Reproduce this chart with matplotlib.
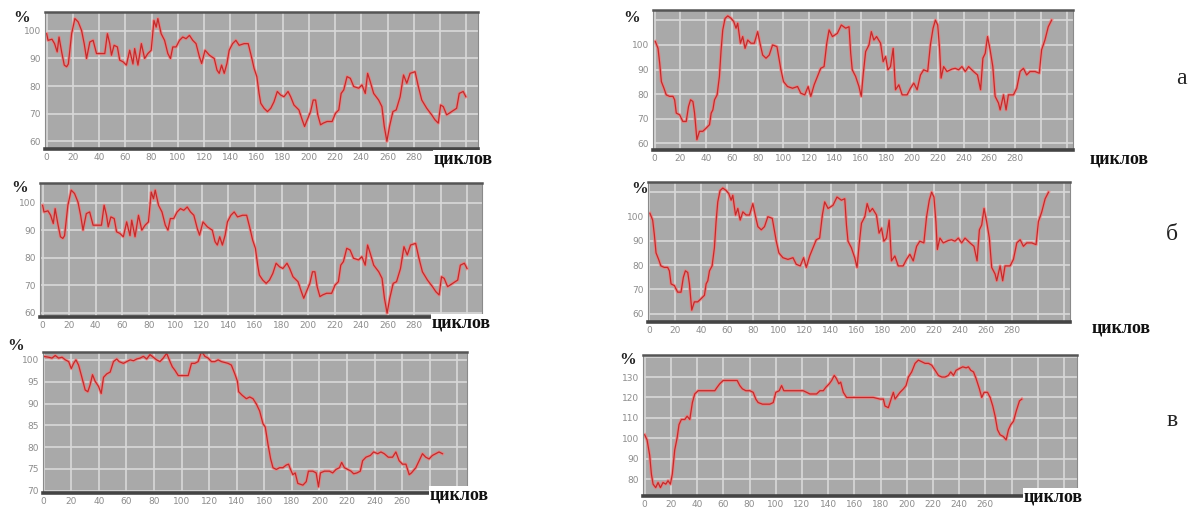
import matplotlib
matplotlib.use("Agg")
import matplotlib.pyplot as plt
import numpy as np

# --- data (cycles, percent) ---
a_cycles = [0, 1, 4, 6, 8, 9.4, 11.4, 13.4, 15.2, 16.5, 19, 21.5, 24, 26.6, 28.6, 30.4, 32.9, 35.4, 38, 41.8,
            44.3, 46.3, 48.1, 49.4, 51.4, 53.9, 55.7, 58.2, 60.8, 63.3, 65.8, 67.1, 69.6, 72.2, 74.7, 77.2,
            79.7, 81.8, 83.5, 84.8, 87.3, 89.9, 92.4, 94.4, 96.2, 98.7, 101.3, 103.8, 106.3, 108.9, 111.4,
            113.9, 116.5, 118.2, 120.8, 124.1, 127.8, 129.9, 131.6, 133.4, 135.4, 137.5, 139.2, 141.8, 144.3,
            146.8, 150.6, 153.7, 156.2, 158.2, 160.3, 162, 163.3, 165.8, 168.4, 170.9, 173.4, 175.9, 178.5,
            181, 184.1, 186.1, 188.6, 192.4, 194.9, 196.7, 198.7, 201.3, 203.3, 205.1, 206.8, 208.9, 210.9,
            213.9, 217.7, 220.3, 222.8, 224.6, 226.6, 229.1, 231.6, 234.2, 238, 240.5, 243, 244.8, 246.8,
            249.4, 253.2, 255.7, 257.5, 259.5, 261.5, 264.1, 266.6, 269.6, 272.2, 274.7, 277.2, 281, 283.5,
            286.1, 289.9, 293.7, 296.2, 298.7, 300.5, 302.5, 305.1, 308.9, 312.7, 314.7, 317.7, 319.7]
a_pct = [99, 96.6, 97, 95.4, 92.4, 97.8, 92.4, 87.6, 87, 88, 99, 104.5, 103.3, 100.2, 95.4, 90, 96, 96.6, 91.8, 91.8,
         91.8, 99, 95.4, 91.2, 94.8, 94.2, 89.4, 88.8, 87.6, 93, 88, 93.6, 87.6, 95.4, 90, 91.8,
         93, 103.8, 101.4, 104.5, 99, 96.6, 91.8, 90, 94.2, 94.2, 96.6, 97.8, 97.2, 98.4, 96.6,
         95.4, 90.6, 88.2, 93, 91.2, 90, 85.8, 84.6, 87.6, 84.6, 88.2, 93, 95.4, 96.6,
         94.8, 95.4, 95.4, 90.6, 86.4, 83.4, 77.3, 73.7, 71.9, 70.7, 71.9, 74.3, 78, 76.7,
         76.1, 78, 76.1, 73.1, 71.3, 67.7, 65.3, 67.7, 70.7, 74.9, 74.9, 69.5, 65.9, 66.5,
         67.1, 67.1, 70.1, 71.3, 77.3, 78.6, 83.4, 82.8, 79.8, 79.2, 80.4, 77.3, 84.6, 81.6,
         77.3, 74.9, 72.5, 65.3, 59.9, 65.3, 70.7, 71.3, 76.1, 84, 81, 84.6, 85.2, 79.8,
         74.9, 71.9, 69.5, 67.7, 66.5, 73.1, 72.5, 69.5, 70.7, 71.9, 77.3, 78, 76.1]

b_cycles = [0.5, 2.6, 3.9, 5.2, 7.2, 9, 11.6, 14.2, 15.5, 16.8, 19.4, 21.9, 24.5, 26.3, 27.9, 29.7, 31, 32.8,
            34.8, 37.4, 40, 42.6, 43.9, 45.2, 46.5, 48.5, 50.3, 51.6, 52.9, 54.7, 56.8, 59.4, 61.4, 63.2,
            64.5, 66.6, 68.4, 70.2, 72.3, 74.8, 77.4, 80, 82.1, 83.9, 86.5, 89, 91.6, 95, 98.1, 100.1,
            103.2, 107.1, 111, 113.5, 116.6, 119.2, 121.3, 123.9, 126.5, 129, 131.6, 133.7, 135.5, 138.1,
            141.9, 145, 148.4, 151, 152.3, 153.5, 156.1, 158.7, 160.5, 162.1, 163.9, 166.5, 168.3, 170.3,
            172.4, 175.5, 177.5, 179.4, 181.2, 183.2, 185.3, 187.1, 189.7, 192.3, 196.1, 198.7, 201.3,
            203.9, 206.5, 209, 212.1, 214.2, 216.3, 218.1, 219.9, 221.4, 222.5, 224.5, 227.1, 231, 233.5,
            236.1, 238.7, 241.3, 243.9, 247.7, 250.8, 253.2, 255, 256.8, 258.6, 260.6, 262.7, 264.5,
            267.1, 268.4, 271, 273, 274.8, 278.7, 281.3, 283.9, 286.5, 289, 291.6, 295.5, 298.8, 300.6,
            303.2, 305.8, 308.4]
b_pct = [101.4, 98.6, 92.6, 85.1, 82.4, 79.7, 79.1, 79.1, 77.7, 72.3, 71.6, 68.9, 68.9, 75, 77.7, 77, 72.3, 61.5,
         64.9, 64.9, 66.2, 67.6, 72.3, 73.6, 77.7, 79.7, 87.2, 98, 106.1, 110.8, 111.8, 110.8, 109.5, 106.8,
         108.8, 100.7, 103.4, 98.6, 102, 100.7, 100.7, 105.4, 100, 95.9, 94.6, 95.9, 100, 99.3, 89.9, 85.1,
         83.1, 82.4, 83.1, 80.4, 79.7, 83.1, 79.1, 83.8, 87.2, 90.5, 91.2, 100.7, 106.1, 103.4,
         104.7, 108.1, 106.8, 107.4, 96.6, 89.9, 87.2, 83.1, 79.1, 88.5, 97.3, 100, 105.4, 102,
         103.4, 100.7, 93.2, 95.3, 89.9, 91.2, 98.6, 81.8, 83.8, 79.7, 79.7, 82.4, 84.5,
         81.8, 87.8, 89.9, 89.2, 100, 106.8, 110.1, 108.1, 98, 86.5, 91.2, 89.2, 90.2, 90.5,
         89.9, 91.2, 89.2, 91.2, 89.2, 87.8, 81.8, 94.6, 96.6, 103.4, 98, 91.2, 79.1,
         76.4, 73.6, 79.7, 73.6, 79.7, 79.7, 82.4, 89.2, 90.5, 87.8, 89.2, 89.2, 88.5, 98,
         102, 107.4, 110.1]

c_cycles = [0, 3.6, 6, 8.4, 10.8, 13.3, 15.7, 18.1, 20, 21.7, 23.4, 25.3, 27.7, 30.1, 32, 33.7, 35.4, 37.3,
            39.8, 41.7, 43.4, 45.8, 48.2, 50.6, 53, 54.7, 57.8, 60.2, 62.7, 65.1, 67.5, 69.9, 72.3, 74.7,
            77.1, 79.5, 81.9, 84.3, 86.7, 89.2, 91.6, 93.3, 95.2, 97.6, 100, 102.4, 104.8, 107.2, 109.6,
            112, 114.5, 116.9, 119.3, 121.7, 124.1, 126.5, 128.9, 131.3, 133.7, 136.1, 138.6, 140.5, 141.4,
            143.9, 147, 149.4, 151.8, 154.2, 156.6, 159, 160.7, 162.7, 164.6, 166.3, 168.7, 171.1, 173.5,
            175.9, 177.6, 179, 180.7, 182.4, 184.3, 188, 190.4, 192, 195.2, 197.6, 199.3, 200.7, 203.6,
            207.2, 209.6, 212, 214.5, 216.1, 218.1, 220.5, 222.9, 224.8, 227.2, 229.6, 231.3, 233.7,
            236.9, 239.3, 242.2, 244.6, 247, 249.9, 253, 255.4, 257.8, 260.2, 262.7, 265.1, 266.7, 269.9,
            272.3, 274.7, 277.1, 279.5, 281.9, 284.3, 286.7, 289.2]
c_pct = [100.8, 100.6, 100.4, 101, 100.4, 100.6, 100, 99.6, 98, 99.2, 100, 98.8, 96, 93.1, 92.7, 94.3, 96.6, 95.1,
         93.9, 92.3, 96, 96.8, 97.2, 99.6, 100.2, 99.6, 99.2, 99.6, 100, 99.8, 100.2, 100.4, 100.8, 100.2,
         101.2, 100.6, 100, 99.6, 100.4, 101.5, 99.6, 98.4, 97.6, 96.4, 96.4, 96.4, 96.4, 99.2, 99.2,
         99.6, 102, 100.8, 100.4, 99.6, 99.6, 100, 99.6, 99.4, 99.2, 98.8, 96.8, 95.1, 92.7,
         91.9, 91.1, 91.5, 91.1, 89.9, 88.3, 85.4, 84.6, 80.6, 77.3, 75.3, 74.9, 75.3, 75.3,
         75.9, 76.1, 74.9, 73.7, 74.1, 71.7, 71.3, 72.1, 74.5, 74.5, 74.1, 70.9, 74.1, 74.5,
         74.5, 74.1, 74.9, 75.3, 76.5, 75.3, 74.9, 74.5, 73.9, 74.1, 74.5, 76.9, 77.7,
         78.1, 78.9, 78.5, 78.9, 78.5, 77.7, 77.7, 78.9, 76.9, 76.1, 76.1, 73.7, 74.1, 75.3,
         76.9, 78.5, 77.7, 77.3, 78.1, 78.5, 78.9, 78.5]

d_cycles = [0, 1.8, 3.8, 5.1, 6.4, 8.4, 10.2, 12, 14, 16.1, 17.8, 19.6, 21.1, 22.9, 24.7, 26.2, 28, 30.6, 32.4,
            34.4, 36.4, 38.2, 40.8, 43.3, 47.1, 51, 53.5, 55.3, 57.3, 59.9, 63.7, 67.5, 70.6, 72.6, 74.6,
            77.2, 80.3, 82.8, 84.8, 86.6, 89.9, 93, 95.5, 98.1, 100.1, 102.7, 104.5, 106.2, 109.6, 113.4,
            117.2, 121, 123.6, 126.1, 128.7, 131.2, 133.8, 136.3, 138.3, 140.9, 142.7, 144.7, 146.4, 148.2,
            149.6, 151.6, 154.1, 159.2, 164.3, 169.4, 174.5, 179.6, 182.2, 183.4, 186, 188.5, 189.8, 191.1,
            192.9, 194.9, 197.5, 199.5, 201.3, 203.8, 206.4, 208.9, 211.5, 214, 216.6, 219.1, 221.7, 224.2,
            226.8, 229.3, 231.8, 233.6, 235.7, 237.7, 240.3, 242.8, 245.4, 247.1, 248.9, 251, 253, 255.5,
            257.3, 259.1, 261.7, 263.7, 265.7, 267.5, 269.3, 271.3, 273.9, 275.9, 277.7, 279.5, 281.5,
            283.6, 286.1, 287.9]
d_pct = [101.7, 99.2, 91.7, 82.5, 77.5, 75.8, 78.3, 75.8, 78.3, 77.5, 79.2, 77.5, 82.5, 94.2, 100, 106.7, 109.2, 109.2, 110.8,
         109.2, 117.5, 121.7, 123.3, 123.3, 123.3, 123.3, 123.3, 125, 126.7, 128.3, 128.3, 128.3, 128.3, 125.8, 124.2,
         123.3, 123.3, 122.5, 119.2, 117.5, 116.7, 116.7, 116.7, 117.5, 122.5, 123.3, 125.8, 123.3, 123.3, 123.3,
         123.3, 123.3, 122.5, 121.7, 121.7, 121.7, 123.3, 123.3, 125, 126.7, 128.3, 130.8, 129.2, 126.7,
         127.5, 122.5, 120, 120, 120, 120, 120, 119.2, 119.2, 115.8, 115, 120, 122.5, 119.2,
         120.8, 122.5, 124.2, 125.8, 130, 132.5, 136.7, 138.3, 137.5, 136.7, 136.7, 135.8, 133.3, 130.8,
         130, 130, 130.8, 132.5, 130.8, 133.3, 134.2, 135, 134.5, 135, 133.3, 132.5, 129.2, 124.2,
         120, 122.5, 122.5, 120, 115.8, 110.8, 104.2, 101.7, 100.8, 99.2, 104.2, 106.7, 108.3,
         113.3, 118.3, 119.2]

W, H = 1200, 513
BG = "#a9a9a9"
GRID = "#d8d8d8"


def px(x, y):
    return x / W, 1 - y / H


def panel(box, cyc, pct, xlim, ylim, yticks, xlast, ylabels):
    x0, y0, x1, y1 = box
    ax = fig.add_axes([x0 / W, 1 - y1 / H, (x1 - x0) / W, (y1 - y0) / H])
    ax.set_facecolor(BG)
    ax.plot(cyc, pct, color="#f27878", lw=2.4, alpha=0.7, solid_joinstyle="round")
    ax.plot(cyc, pct, color="#c42a2a", lw=0.9)
    ax.set_xlim(*xlim)
    ax.set_ylim(*ylim)
    xt = np.arange(0, xlim[1], 20)
    ax.set_xticks(xt)
    ax.set_xticklabels([str(int(t)) if t <= xlast else "" for t in xt])
    ax.set_yticks(yticks)
    ax.set_yticklabels([str(t) if t in ylabels else "" for t in yticks])
    ax.grid(True, color=GRID, lw=1.2)
    ax.set_axisbelow(True)
    ax.tick_params(length=0, labelsize=6.5, labelcolor="#8c8c8c", pad=3)
    for s in ("left", "right"):
        ax.spines[s].set_color("#8a8a8a")
        ax.spines[s].set_linewidth(0.8)
    ax.spines["top"].set_color("#555555")
    ax.spines["top"].set_linewidth(1.8)
    ax.spines["bottom"].set_color("#444444")
    ax.spines["bottom"].set_linewidth(2.6)
    return ax


fig = plt.figure(figsize=(12, 5.13), dpi=100)

panel((45, 12, 478, 149), a_cycles, a_pct, (-1.3, 329), (57.1, 106.9),
      [60, 70, 80, 90, 100], 280, [60, 70, 80, 90, 100])
panel((653, 10, 1073, 150), b_cycles, b_pct, (-1.3, 325), (57.3, 114.2),
      [60, 70, 80, 90, 100, 110], 280, [60, 70, 80, 90, 100])
panel((40, 183, 482, 317), a_cycles, a_pct, (-2, 331), (58.5, 107.1),
      [60, 70, 80, 90, 100], 280, [60, 70, 80, 90, 100])
panel((648, 182, 1070, 322), b_cycles, b_pct, (-1, 325), (56.6, 114.3),
      [60, 70, 80, 90, 100, 110], 280, [60, 70, 80, 90, 100])
panel((43, 352, 467, 493), c_cycles, c_pct, (-0.5, 307), (69.5, 101.8),
      [70, 75, 80, 85, 90, 95, 100], 260, [70, 75, 80, 85, 90, 95, 100])
panel((643, 355, 1077, 496), d_cycles, d_pct, (-1.3, 330), (71.7, 140.8),
      [80, 90, 100, 110, 120, 130, 140], 260, [80, 90, 100, 110, 120, 130])

serif = ["Liberation Serif", "DejaVu Serif"]
for (x, y) in [(22, 18), (632, 18), (20, 188), (640, 189), (16, 346), (628, 360)]:
    fig.text(*px(x, y), "%", family=serif, weight="bold", fontsize=12,
             ha="center", va="center", color="#222222")

for (x, y) in [(434, 159), (1090, 159), (432, 323), (1092, 328), (430, 495), (1024, 497)]:
    fig.text(*px(x, y), "циклов", family=serif, weight="bold", fontsize=13,
             ha="left", va="center", color="#111111",
             bbox=dict(facecolor="white", edgecolor="none", pad=0.5))

for (x, y, s) in [(1181, 78, "а"), (1172, 234, "б"), (1172, 420, "в")]:
    fig.text(*px(x, y), s, family=serif, fontsize=17, ha="center", va="center", color="#222222")

fig.savefig("out.png", dpi=100, facecolor="white")
